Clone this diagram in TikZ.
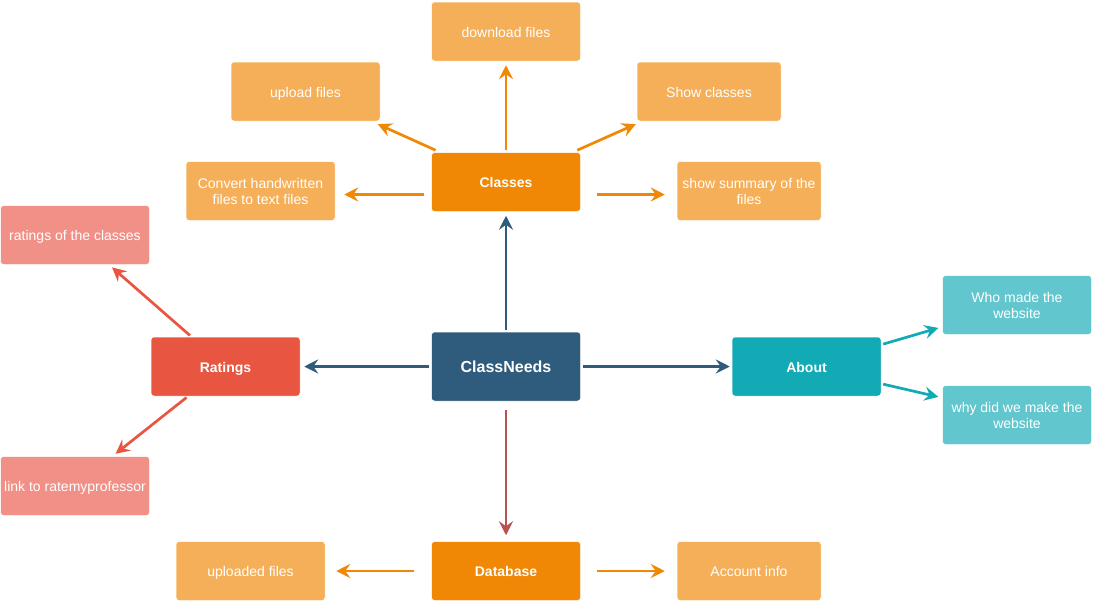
\documentclass[tikz,border=0pt]{standalone}
\usepackage{fontspec}
\setmainfont{Liberation Sans}
\usetikzlibrary{positioning, arrows.meta}
\definecolor{classorange}{HTML}{F08705}
\definecolor{leaforange}{HTML}{F5AF58}
\definecolor{hubnavy}{HTML}{2F5B7C}
\definecolor{ratered}{HTML}{E85642}
\definecolor{ratepink}{HTML}{F19086}
\definecolor{aboutteal}{HTML}{12AAB5}
\definecolor{leafteal}{HTML}{61C6CE}
\definecolor{dbbrown}{HTML}{B85450}
\tikzset{base node/.style={rectangle,rounded corners=3pt,draw=white,line width=0.5pt,text=white,inner sep=2pt,align=center,minimum width=149pt,minimum height=59pt,font=\fontsize{14pt}{16pt}\selectfont}}
\tikzset{one line/.style={text height=11pt,text depth=0pt}}
\tikzset{main node/.style={base node,fill=hubnavy,minimum height=69pt,font=\fontsize{16pt}{18pt}\selectfont\bfseries}}
\tikzset{topic node/.style={base node,one line,font=\fontsize{14pt}{16pt}\selectfont\bfseries}}
\tikzset{link line/.style={line width=2.7pt,-{Stealth[length=14pt,width=14pt,inset=5pt]},shorten <=2pt,shorten >=4pt}}

\begin{document}
\begin{tikzpicture}[x=1pt,y=-1pt]
            \useasboundingbox (0,0) rectangle (1093,603);
            \node[main node] (classneeds) at (506,366.5) {ClassNeeds};
            \node[topic node, fill=classorange] (classes) [above = 120pt of classneeds] {Classes};
            \node[base node, one line, fill=leaforange] (download) [above = 91pt of classes] {download files};
            \node[base node, one line, fill=leaforange] (upload) [above left = 31pt and 51pt of classes] {upload files};
            \node[base node, one line, fill=leaforange, minimum width=144pt] (showcls) [above right = 31pt and 56pt of classes] {Show classes};
            \node[base node, fill=leaforange] (convert) [left = 96pt of classes, yshift=-9pt] {Convert handwritten\\files to text files};
            \node[base node, fill=leaforange, minimum width=144pt] (summary) [right = 96pt of classes, yshift=-9pt] {show summary of the\\files};
            \node[topic node, fill=ratered] (ratings) [left = 131pt of classneeds] {Ratings};
            \node[base node, one line, fill=ratepink] (rclasses) [above left = 72pt and 1pt of ratings] {ratings of the classes};
            \node[base node, one line, fill=ratepink] (rlink) [below left = 60pt and 1pt of ratings] {link to ratemyprofessor};
            \node[topic node, fill=aboutteal] (about) [right = 151pt of classneeds] {About};
            \node[base node, fill=leafteal] (who) [right = 61pt of about, yshift=61.5pt] {Who made the\\website};
            \node[base node, fill=leafteal] (why) [right = 61pt of about, yshift=-48.5pt] {why did we make the\\website};
            \node[topic node, fill=classorange] (database) [below = 140pt of classneeds] {Database};
            \node[base node, one line, fill=leaforange] (uploaded) [left = 106pt of database] {uploaded files};
            \node[base node, one line, fill=leaforange, minimum width=144pt] (account) [right = 96pt of database] {Account info};

            % classes and database branches
            \draw[link line, classorange, shorten <=5pt, shorten >=7pt] (classes) -- (upload);
            \draw[link line, classorange] (classes) -- (download);
            \draw[link line, classorange, shorten <=5pt, shorten >=7pt] (classes) -- (showcls);
            \draw[link line, classorange, shorten <=7pt, shorten >=9pt] ([yshift=-12.5pt]classes.west) -- ([yshift=-3.5pt]convert.east);
            \draw[link line, classorange, shorten <=16pt, shorten >=12pt] ([yshift=-12.5pt]classes.east) -- ([yshift=-3.5pt]summary.west);
            \draw[link line, classorange, shorten <=17pt, shorten >=11pt] (database) -- (uploaded);
            \draw[link line, classorange, shorten <=16pt, shorten >=12pt] (database) -- (account);

            % from the centre
            \draw[link line, hubnavy] (classneeds) -- (classes);
            \draw[link line, hubnavy] (classneeds) -- (ratings);
            \draw[link line, hubnavy, shorten >=2pt] (classneeds) -- (about);
            \draw[link line, dbbrown, shorten <=9pt, shorten >=6pt] (classneeds) -- (database);

            % ratings and about branches
            \draw[link line, ratered] (ratings) -- (rclasses);
            \draw[link line, ratered] (ratings) -- (rlink);
            \draw[link line, aboutteal] (about) -- (who);
            \draw[link line, aboutteal] (about) -- (why);
        \end{tikzpicture}
\end{document}
